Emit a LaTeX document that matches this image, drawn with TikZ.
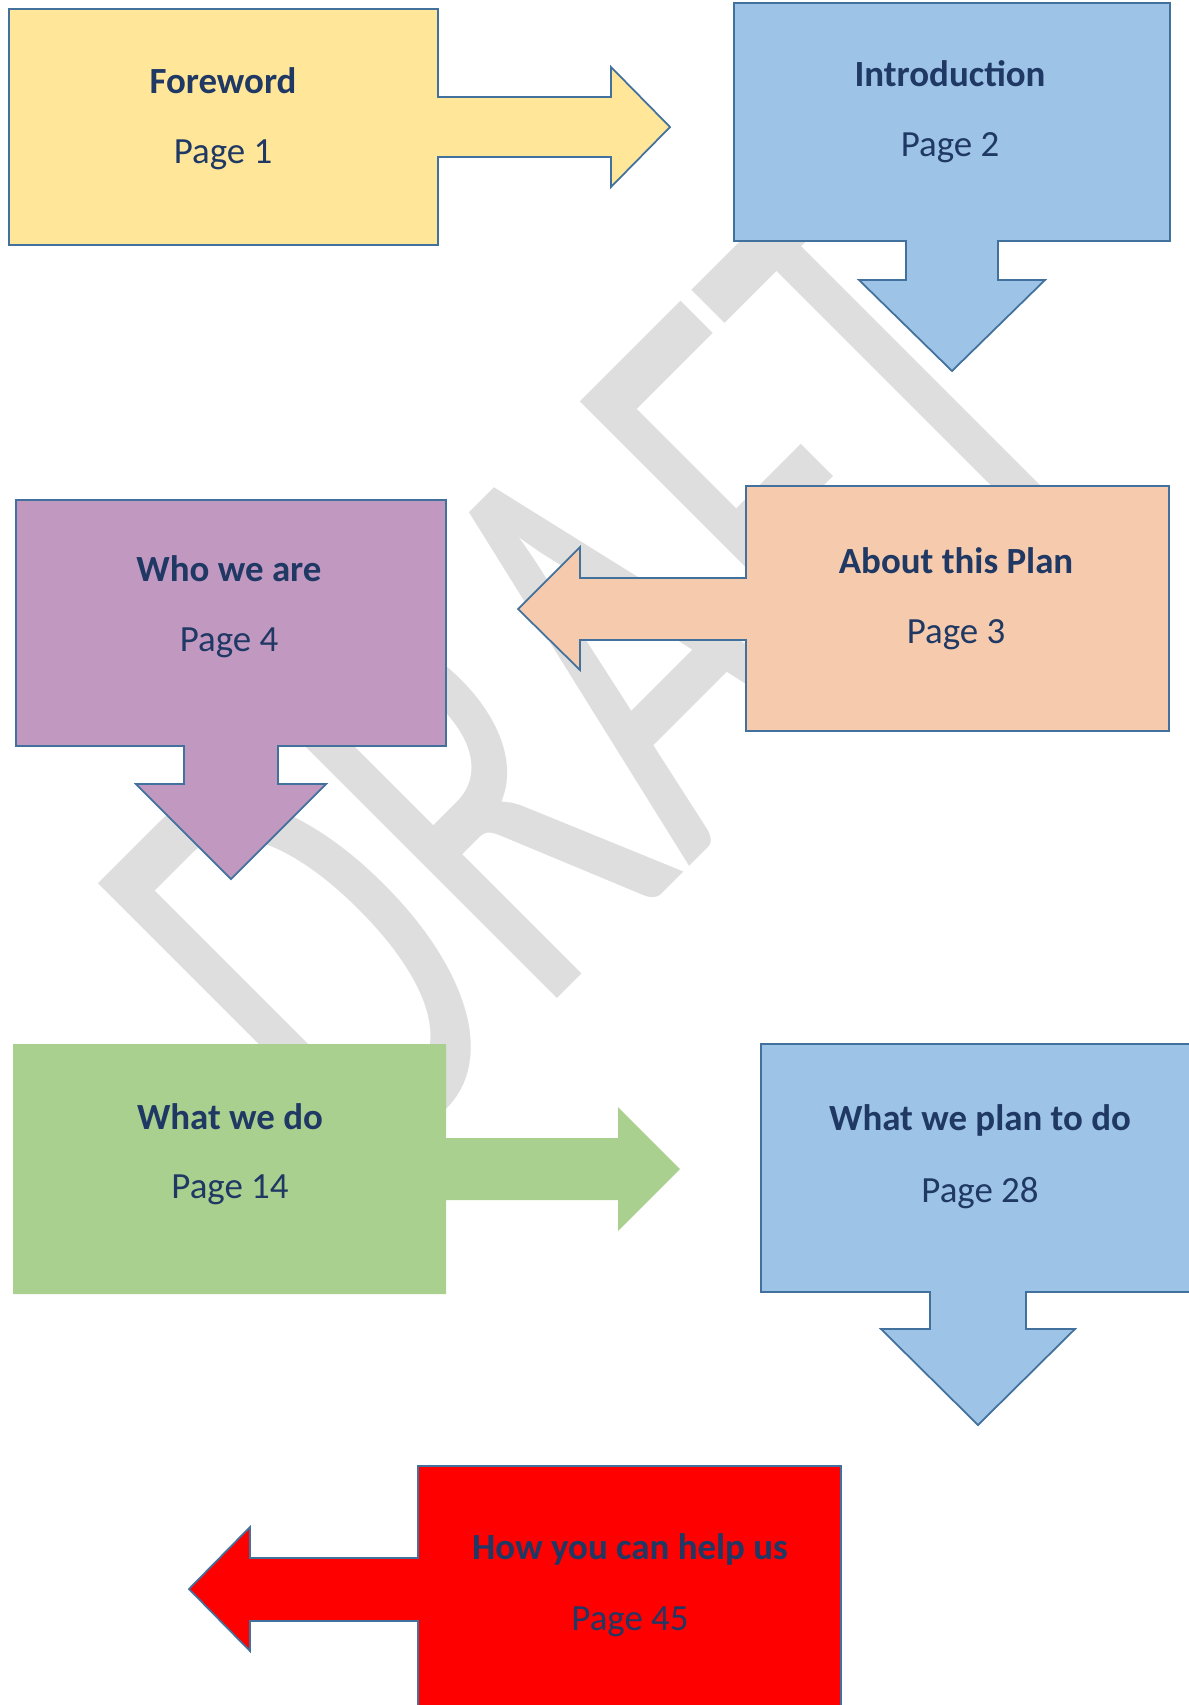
\documentclass[tikz,border=0pt]{standalone}
\usepackage{fontspec}
\setmainfont{Carlito}
\usepackage{graphicx}
\definecolor{edgeblue}{HTML}{41719C}
\definecolor{navy}{HTML}{1F3864}
\definecolor{wmgray}{HTML}{DEDEDE}
\definecolor{fwdyellow}{HTML}{FFE699}
\definecolor{introblue}{HTML}{9DC3E6}
\definecolor{aboutpeach}{HTML}{F6CAAC}
\definecolor{whopurple}{HTML}{C198C0}
\definecolor{dogreen}{HTML}{A9D08E}
\definecolor{helpred}{HTML}{FF0000}

\begin{document}
\begin{tikzpicture}[x=0.02cm,y=-0.02cm,
	callout/.style={draw=edgeblue,line width=1pt,line join=miter},
	title/.style={text=navy,font=\fontsize{21}{25}\selectfont\bfseries},
	pageno/.style={text=navy,font=\fontsize{21}{25}\selectfont},
	watermark/.style={text=wmgray,rotate=45,anchor=base,inner sep=0pt,
		font=\fontsize{360}{360}\selectfont}]
	\useasboundingbox (0,0) rectangle (1189,1705);
	\clip (0,0) rectangle (1189,1705);
	%% watermark
	\node[watermark] (draft) at (739,817) {\scalebox{0.62}[1]{DRAFT}};
	%% foreword
	\filldraw[callout,fill=fwdyellow] (9,9) -- (438,9) -- (438,97) -- (611,97) -- (611,67) -- (670,127)
		-- (611,187) -- (611,157) -- (438,157) -- (438,245) -- (9,245) -- cycle;
	\node[title] (fwd) at (223,81) {Foreword};
	\node[pageno] (fwdpage) at (223,155) {Page 1};
	%% introduction
	\filldraw[callout,fill=introblue] (734,3) -- (1170,3) -- (1170,241) -- (998,241) -- (998,280) -- (1045,280)
		-- (952,371) -- (859,280) -- (906,280) -- (906,241) -- (734,241) -- cycle;
	\node[title] (intro) at (950,74) {Introduction};
	\node[pageno] (intropage) at (950,148) {Page 2};
	%% about this plan
	\filldraw[callout,fill=aboutpeach] (746,486) -- (1169,486) -- (1169,731) -- (746,731) -- (746,640) -- (580,640)
		-- (580,670) -- (518,609) -- (580,547) -- (580,578) -- (746,578) -- cycle;
	\node[title] (about) at (956,561) {About this Plan};
	\node[pageno] (aboutpage) at (956,635) {Page 3};
	%% who we are
	\filldraw[callout,fill=whopurple] (16,500) -- (446,500) -- (446,746) -- (278,746) -- (278,784) -- (326,784)
		-- (231,879) -- (136,784) -- (184,784) -- (184,746) -- (16,746) -- cycle;
	\node[title] (who) at (229,569) {Who we are};
	\node[pageno] (whopage) at (229,643) {Page 4};
	%% what we do
	\fill[dogreen] (13,1044) -- (446,1044) -- (446,1138) -- (618,1138) -- (618,1107) -- (680,1169)
		-- (618,1231) -- (618,1200) -- (446,1200) -- (446,1294) -- (13,1294) -- cycle;
	\node[title] (what) at (230,1117) {What we do};
	\node[pageno] (whatpage) at (230,1190) {Page 14};
	%% what we plan to do
	\filldraw[callout,fill=introblue] (761,1044) -- (1196,1044) -- (1196,1292) -- (1026,1292) -- (1026,1329) -- (1075,1329)
		-- (978,1425) -- (881,1329) -- (930,1329) -- (930,1292) -- (761,1292) -- cycle;
	\node[title] (plan) at (980,1120) {What we plan to do};
	\node[pageno] (planpage) at (980,1193) {Page 28};
	%% how you can help us
	\filldraw[callout,fill=helpred] (418,1466) -- (841,1466) -- (841,1720) -- (418,1720) -- (418,1621) -- (250,1621)
		-- (250,1651) -- (189,1589) -- (250,1527) -- (250,1558) -- (418,1558) -- cycle;
	\node[title] (help) at (630,1549) {How you can help us};
	\node[pageno] (helppage) at (630,1622) {Page 45};
\end{tikzpicture}
\end{document}
